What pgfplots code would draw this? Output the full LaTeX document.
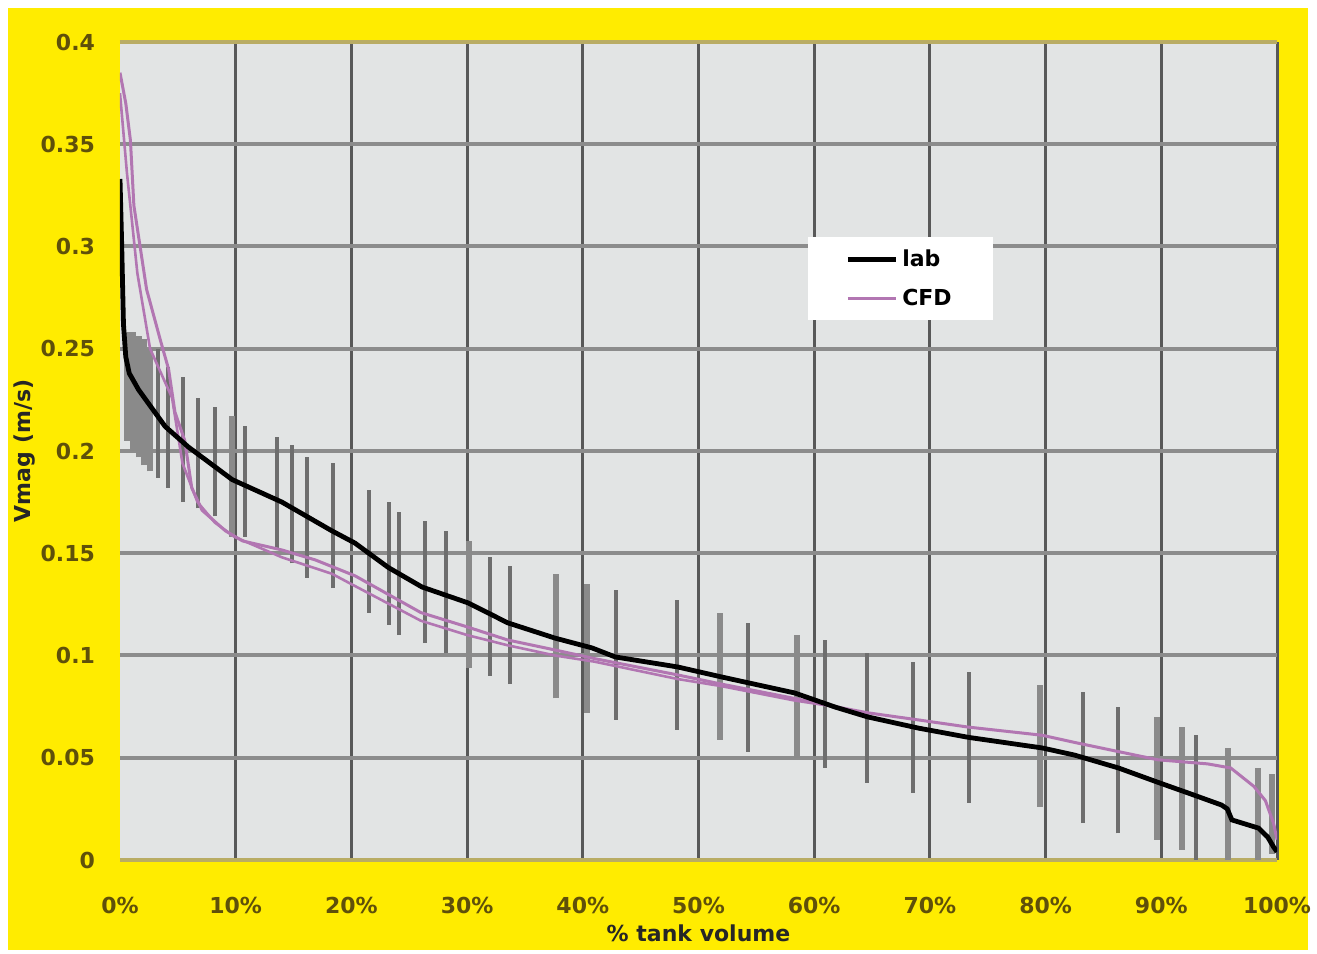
\documentclass[border=0pt]{standalone}
\usepackage{fontspec}
\setmainfont{DejaVu Sans}
\usepackage{pgfplots}
\pgfplotsset{compat=1.18}
\definecolor{yel}{RGB}{255,236,0}
\definecolor{plotbg}{RGB}{226,228,228}
\definecolor{cfd}{RGB}{178,118,178}
\definecolor{tickc}{RGB}{95,80,10}
\definecolor{hgrid}{RGB}{140,140,140}
\definecolor{vgrid}{RGB}{88,88,88}
\definecolor{edgeline}{RGB}{185,172,100}
\definecolor{barthin}{RGB}{110,110,110}
\definecolor{barthick}{RGB}{138,138,138}
\begin{document}
\begin{tikzpicture}
\fill[white] (-60pt,-46.5pt) rectangle (598.5pt,430pt);
\fill[yel] (-56pt,-45pt) rectangle (594pt,426pt);
\begin{axis}[
  at={(0,0)}, anchor=south west, scale only axis,
  width=578.5pt, height=409pt,
  xmin=0, xmax=100, ymin=0, ymax=0.4,
  axis background/.style={fill=plotbg},
  axis line style={draw=none},
  tick style={draw=none},
  xtick={10,20,30,40,50,60,70,80,90,100},
  xticklabels={10\%,20\%,30\%,40\%,50\%,60\%,70\%,80\%,90\%,100\%},
  extra x ticks={0}, extra x tick labels={0\%}, extra x tick style={grid=none},
  ytick={0.05,0.1,0.15,0.2,0.25,0.3,0.35},
  yticklabels={0.05,0.1,0.15,0.2,0.25,0.3,0.35},
  extra y ticks={0,0.4}, extra y tick labels={0,0.4},
  extra y tick style={major y grid style={edgeline, line width=1.6pt}},
  scaled y ticks=false, scaled x ticks=false,
  grid=major,
  major x grid style={vgrid, line width=1.5pt},
  major y grid style={hgrid, line width=2pt},
  ticklabel style={font=\fontsize{11}{13}\selectfont\bfseries, text=tickc},
  yticklabel style={anchor=east, xshift=-9pt},
  xticklabel style={anchor=north, yshift=-15pt},
  xlabel={\% tank volume},
  ylabel={Vmag (m/s)},
  label style={font=\fontsize{11}{13}\selectfont\bfseries, text=black!85},
  xlabel style={at={(rel axis cs:0.5,-0.0892)}, anchor=center},
  ylabel style={at={(rel axis cs:-0.0821,0.5)}, anchor=center},
  legend style={at={(rel axis cs:0.5947,0.7616)}, anchor=north west,
    fill=white, draw=none, inner xsep=18.5pt, inner ysep=4pt, row sep=6pt,
    font=\fontsize{11}{13}\selectfont\bfseries},
  legend cell align=left,
  legend image code/.code={\draw[#1] (0pt,0pt) -- (24pt,0pt);},
  reverse legend,
  unbounded coords=jump,
]
% range bars (thin)
\addplot[barthin, line width=1.6pt, forget plot] coordinates {
 (3.28,0.187) (3.28,0.250) (3.28,nan)
 (4.15,0.182) (4.15,0.241) (4.15,nan)
 (5.45,0.175) (5.45,0.236) (5.45,nan)
 (6.74,0.172) (6.74,0.226) (6.74,nan)
 (8.21,0.168) (8.21,0.2215) (8.21,nan)
 (10.80,0.158) (10.80,0.212) (10.80,nan)
 (13.57,0.152) (13.57,0.207) (13.57,nan)
 (14.87,0.145) (14.87,0.203) (14.87,nan)
 (16.16,0.138) (16.16,0.197) (16.16,nan)
 (18.41,0.133) (18.41,0.194) (18.41,nan)
 (21.52,0.121) (21.52,0.181) (21.52,nan)
 (23.25,0.115) (23.25,0.175) (23.25,nan)
 (24.11,0.110) (24.11,0.170) (24.11,nan)
 (26.36,0.106) (26.36,0.166) (26.36,nan)
 (28.18,0.101) (28.18,0.161) (28.18,nan)
 (31.98,0.090) (31.98,0.148) (31.98,nan)
 (33.71,0.086) (33.71,0.144) (33.71,nan)
 (42.87,0.0685) (42.87,0.132) (42.87,nan)
 (48.14,0.0636) (48.14,0.127) (48.14,nan)
 (54.28,0.053) (54.28,0.116) (54.28,nan)
 (60.93,0.045) (60.93,0.1076) (60.93,nan)
 (64.56,0.0377) (64.56,0.101) (64.56,nan)
 (68.54,0.033) (68.54,0.097) (68.54,nan)
 (73.38,0.028) (73.38,0.092) (73.38,nan)
 (83.23,0.018) (83.23,0.082) (83.23,nan)
 (86.26,0.013) (86.26,0.075) (86.26,nan)
 (93.00,0.0) (93.00,0.061)
};
% range bars (thick)
\addplot[barthick, line width=3pt, forget plot] coordinates {
 (0.6,0.205) (0.6,0.258) (0.6,nan)
 (1.1,0.200) (1.1,0.258) (1.1,nan)
 (1.6,0.197) (1.6,0.256) (1.6,nan)
 (2.1,0.193) (2.1,0.255) (2.1,nan)
 (2.6,0.190) (2.6,0.250) (2.6,nan)
 (9.68,0.158) (9.68,0.217) (9.68,nan)
 (30.16,0.094) (30.16,0.156) (30.16,nan)
 (37.68,0.079) (37.68,0.140) (37.68,nan)
 (40.36,0.072) (40.36,0.135) (40.36,nan)
 (51.86,0.0587) (51.86,0.121) (51.86,nan)
 (58.51,0.050) (58.51,0.110) (58.51,nan)
 (79.52,0.026) (79.52,0.0856) (79.52,nan)
 (89.63,0.0098) (89.63,0.070) (89.63,nan)
 (91.79,0.005) (91.79,0.065) (91.79,nan)
 (95.77,0.0) (95.77,0.055) (95.77,nan)
 (98.36,0.0) (98.36,0.045) (98.36,nan)
 (99.57,0.003) (99.57,0.042)
};
% CFD second (lower) line
\addplot[cfd, line width=1.3pt, forget plot] coordinates {
 (0,0.375) (0.6,0.336) (1.5,0.287) (2.6,0.250) (4.5,0.226) (5.4,0.194)
 (6.7,0.175) (8.2,0.165) (9.9,0.158) (14,0.148) (18.3,0.140) (20.3,0.134)
 (26,0.117) (30,0.110) (33.5,0.105) (37.6,0.100) (41,0.097) (48.2,0.0885)
 (52,0.085) (58.3,0.078) (61.8,0.075)
};
% CFD main line
\addplot[cfd, line width=1.5pt] coordinates {
 (0,0.385) (0.5,0.370) (0.9,0.352) (1.2,0.320) (2.3,0.279) (3.5,0.254)
 (4.2,0.240) (4.75,0.219) (5.6,0.205) (6.2,0.182) (7.1,0.171) (9.1,0.161)
 (10.6,0.156) (14,0.1516) (16.9,0.1467) (20.3,0.139) (26,0.121) (30,0.114)
 (33.5,0.1076) (37.6,0.1027) (41,0.0985) (48.2,0.0905) (52,0.086) (58.3,0.079)
 (61.8,0.075) (64.6,0.072) (69,0.0685) (73.3,0.065) (79.7,0.061) (82.5,0.0575)
 (86.3,0.053) (89.7,0.049) (94,0.047) (96,0.045) (98,0.036) (99,0.029)
 (99.7,0.018) (100,0.010)
};
\addlegendentry{CFD}
% lab line
\addplot[black, line width=2.4pt] coordinates {
 (0,0.333) (0.15,0.300) (0.3,0.262) (0.5,0.246) (0.8,0.238) (1.6,0.230)
 (3.9,0.212) (5.9,0.202) (9.7,0.186) (14,0.175) (18.3,0.161) (20.3,0.155)
 (23.2,0.143) (26.1,0.1335) (30.1,0.1257) (33.5,0.116) (37.6,0.1085) (40.8,0.1037)
 (42.8,0.0993) (48.2,0.0944) (52,0.0895) (58.3,0.0817) (61.8,0.0748) (64.6,0.070)
 (69,0.0645) (73.3,0.060) (79.7,0.0548) (82.5,0.0513) (86.3,0.045) (89.7,0.038)
 (92.3,0.0328) (95.2,0.0269) (95.7,0.0250) (96.1,0.0196) (98.4,0.0156) (99.2,0.0112)
 (99.7,0.0064) (100,0.004)
};
\addlegendentry{lab}
\end{axis}
\pgfresetboundingbox
\path (-60pt,-46.5pt) rectangle (598.5pt,430pt);
\end{tikzpicture}
\end{document}
